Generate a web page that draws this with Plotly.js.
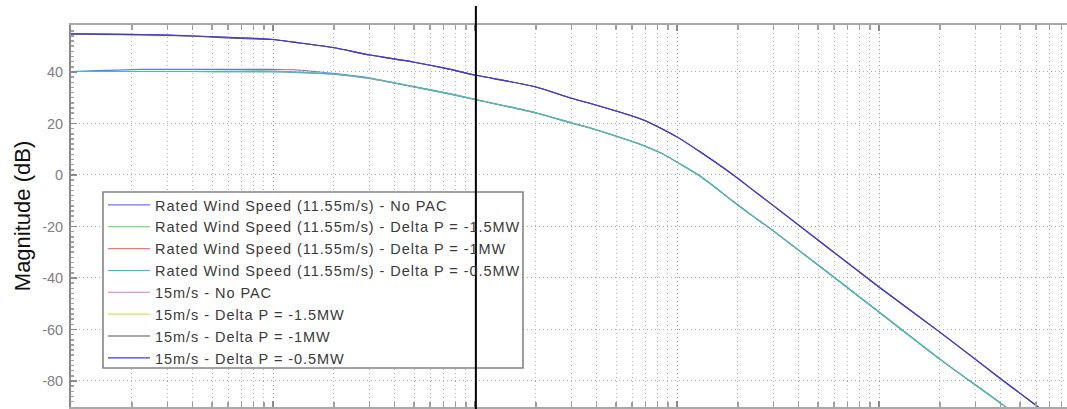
<!DOCTYPE html>
<html>
<head>
<meta charset="utf-8">
<script src="https://cdn.plot.ly/plotly-3.0.1.min.js"></script>
<style>
  html, body { margin: 0; padding: 0; overflow: hidden; background: #fff; }
  #chart { width: 1100px; height: 440px; }
  .legendtext { letter-spacing: 0.95px; }
</style>
</head>
<body>
<div id="chart"></div>
<script>
// Frequency points (log axis)
const freq = [0.01, 0.0227, 0.04, 0.0687, 0.1, 0.126, 0.198, 0.302, 0.493, 0.727, 1, 2, 3, 4, 6, 7.1, 8.5, 10, 13, 19, 23, 30, 100, 200, 406, 605, 1000];

// Rated wind speed (11.55 m/s) series, magnitude in dB
const ratedNoPAC   = [40.2, 41.0, 41.0, 41.0, 41.0, 40.9, 39.5, 37.7, 34.4, 31.8, 29.4, 24.2, 20.3, 17.5, 13.0, 10.9, 8.2, 5.0, -0.4, -10.3, -15.2, -21.7, -53.2, -71.5, -89.0, -99.5, -112.5];
const ratedDP15    = [40.2, 40.2, 40.2, 40.4, 40.4, 40.0, 39.2, 37.5, 34.3, 31.7, 29.3, 24.1, 20.2, 17.5, 13.0, 10.9, 8.2, 5.0, -0.4, -10.3, -15.2, -21.7, -53.2, -71.5, -89.0, -99.5, -112.5];
const ratedDP10    = [40.2, 40.2, 40.2, 40.1, 40.3, 40.1, 39.1, 37.4, 34.3, 31.7, 29.3, 24.1, 20.2, 17.5, 13.0, 10.9, 8.2, 5.0, -0.4, -10.3, -15.2, -21.7, -53.2, -71.5, -89.0, -99.5, -112.5];
const ratedDP05    = [40.2, 40.2, 40.2, 40.1, 40.0, 39.8, 39.2, 37.5, 34.3, 31.7, 29.3, 24.1, 20.2, 17.5, 13.0, 10.9, 8.2, 5.0, -0.4, -10.3, -15.2, -21.7, -53.2, -71.5, -89.0, -99.5, -112.5];

// 15 m/s series, magnitude in dB
const ws15NoPAC    = [54.8, 54.5, 54.0, 53.3, 52.6, 51.6, 49.5, 46.6, 43.9, 41.3, 38.8, 34.2, 29.8, 27.1, 22.9, 20.8, 17.8, 14.8, 9.0, 0.0, -5.0, -11.9, -43.5, -61.0, -79.5, -89.7, -102.8];
const ws15DP15     = [54.8, 54.1, 53.8, 53.2, 52.5, 51.6, 49.4, 46.6, 43.9, 41.3, 38.8, 34.2, 29.8, 27.1, 22.9, 20.8, 17.8, 14.8, 9.0, 0.0, -5.0, -11.9, -43.5, -61.0, -79.5, -89.7, -102.8];
const ws15DP10     = [54.8, 54.5, 54.0, 53.0, 52.6, 51.6, 49.5, 46.6, 43.9, 41.3, 38.8, 34.2, 29.8, 27.1, 22.9, 20.8, 17.8, 14.8, 9.0, 0.0, -5.0, -11.9, -43.5, -61.0, -79.5, -89.7, -102.8];
const ws15DP05     = [54.8, 54.5, 54.0, 53.3, 52.6, 51.6, 49.5, 46.6, 43.9, 41.3, 38.8, 34.2, 29.8, 27.1, 22.9, 20.8, 17.8, 14.8, 9.0, 0.0, -5.0, -11.9, -43.5, -61.0, -79.5, -89.7, -102.8];

const seriesNames = [
  'Rated Wind Speed (11.55m/s) - No PAC',
  'Rated Wind Speed (11.55m/s) - Delta P = -1.5MW',
  'Rated Wind Speed (11.55m/s) - Delta P = -1MW',
  'Rated Wind Speed (11.55m/s) - Delta P = -0.5MW',
  '15m/s - No PAC',
  '15m/s - Delta P = -1.5MW',
  '15m/s - Delta P = -1MW',
  '15m/s - Delta P = -0.5MW'
];
const seriesValues = [ratedNoPAC, ratedDP15, ratedDP10, ratedDP05, ws15NoPAC, ws15DP15, ws15DP10, ws15DP05];
const seriesColors = ['#7070ff', '#5fcc5f', '#ff7070', '#28c8c8', '#dd70dd', '#dede60', '#555555', '#3838ff'];
const seriesWidths = [1.1, 1.1, 1.1, 1.1, 1.1, 1.1, 1.1, 1.1];

// Marker frequency (vertical cursor line)
const cursorFreq = 1.01;

// Grid ticks
const decadeTicks = [0.01, 0.1, 1, 10, 100, 1000];
const minorTicks = [];
for (const d of [0.01, 0.1, 1, 10, 100]) {
  for (let k = 2; k <= 9; k++) minorTicks.push(+(d * k).toPrecision(3));
}
const yTicks = [-80, -60, -40, -20, 0, 20, 40];

const traces = seriesNames.map((name, i) => ({
  type: 'scatter',
  mode: 'lines',
  x: freq,
  y: seriesValues[i],
  name: name,
  line: { color: seriesColors[i], width: seriesWidths[i], shape: 'spline', smoothing: 0.7 },
  hoverinfo: 'skip'
}));

const gridDash = '1px,3px';
const layout = {
  width: 1100,
  height: 440,
  margin: { l: 71, r: 19, t: 25, b: 33 },
  paper_bgcolor: '#ffffff',
  plot_bgcolor: '#ffffff',
  showlegend: true,
  font: { family: 'Liberation Sans, Arial, sans-serif', color: '#333' },
  xaxis: {
    type: 'log',
    range: [-2, 3],
    tickvals: decadeTicks,
    showticklabels: false,
    ticks: 'inside',
    ticklen: 6,
    tickcolor: '#8a8a8a',
    tickwidth: 1.5,
    showline: true,
    linecolor: '#a8a8a8',
    linewidth: 2,
    mirror: 'allticks',
    showgrid: true,
    gridcolor: '#9a9a9a',
    gridwidth: 1,
    griddash: gridDash,
    zeroline: false,
    minor: {
      tickvals: minorTicks,
      ticks: 'inside',
      ticklen: 5,
      tickcolor: '#a0a0a0',
      showgrid: true,
      gridcolor: '#b4b4b4',
      gridwidth: 1,
      griddash: gridDash
    }
  },
  yaxis: {
    range: [-90.1, 58.25],
    tickvals: yTicks,
    ticktext: yTicks.map(String),
    ticks: 'inside',
    ticklen: 6,
    tickcolor: '#8a8a8a',
    tickwidth: 1.5,
    showline: true,
    linecolor: '#8a8a8a',
    linewidth: 2,
    mirror: 'allticks',
    showgrid: true,
    gridcolor: '#a8a8a8',
    gridwidth: 1,
    griddash: gridDash,
    zeroline: false,
    tickfont: { family: 'Liberation Sans, Arial, sans-serif', size: 14.5, color: '#808080' },
    ticklabelstandoff: 3,
    minor: { dtick: 2, ticks: 'inside', ticklen: 3, tickcolor: '#a0a0a0', showgrid: false },
    title: {
      text: 'Magnitude (dB)',
      font: { family: 'Liberation Sans, Arial, sans-serif', size: 22, color: '#111' },
      standoff: 5
    }
  },
  legend: {
    x: 0.0317,
    y: 0.5707,
    xanchor: 'left',
    yanchor: 'top',
    bgcolor: 'rgba(0,0,0,0)',
    borderwidth: 0,
    font: { family: 'Liberation Sans, Arial, sans-serif', size: 14.5, color: '#3a3a3a' },
    itemwidth: 42,
    traceorder: 'normal'
  },
  shapes: [
    {
      type: 'rect', xref: 'paper', yref: 'paper',
      x0: 0.0317, x1: 0.4475, y0: 0.1021, y1: 0.5628,
      fillcolor: '#ffffff',
      line: { color: '#858585', width: 1.6 },
      layer: 'above'
    },
    {
      type: 'line', xref: 'x', yref: 'paper',
      x0: cursorFreq, x1: cursorFreq, y0: -0.05, y1: 1.0497,
      line: { color: '#000000', width: 2 },
      layer: 'above'
    }
  ]
};

Plotly.newPlot('chart', traces, layout, { staticPlot: true, displayModeBar: false });
</script>
</body>
</html>
